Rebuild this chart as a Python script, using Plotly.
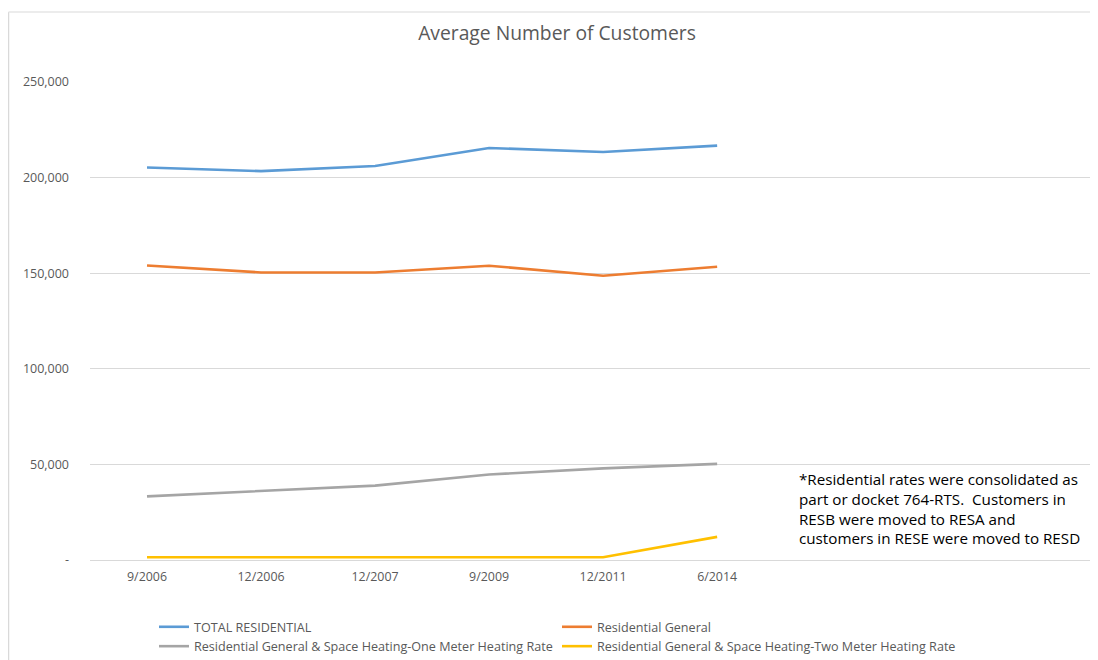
import plotly.graph_objects as go

categories = ["9/2006", "12/2006", "12/2007", "9/2009", "12/2011", "6/2014"]
total_residential = [205300, 203400, 206100, 215500, 213400, 216700]
residential_general = [154000, 150400, 150400, 153900, 148700, 153400]
one_meter = [33300, 36200, 38900, 44700, 47900, 50300]
two_meter = [1400, 1400, 1400, 1400, 1400, 12100]

y_tickvals = [0, 50000, 100000, 150000, 200000, 250000]
y_ticktext = ["-", "50,000", "100,000", "150,000", "200,000", "250,000"]

series = [
    ("TOTAL RESIDENTIAL", total_residential, "#5B9BD5"),
    ("Residential General", residential_general, "#ED7D31"),
    ("Residential General & Space Heating-One Meter Heating Rate", one_meter, "#A5A5A5"),
    ("Residential General & Space Heating-Two Meter Heating Rate", two_meter, "#FFC000"),
]

fig = go.Figure()
for name, vals, color in series:
    fig.add_trace(go.Scatter(
        x=categories, y=vals, name=name, mode="lines",
        line=dict(color=color, width=2.6),
    ))

font_family = "Open Sans"

fig.update_layout(
    width=1098, height=676,
    margin=dict(l=82, r=16, t=74, b=124),
    paper_bgcolor="white", plot_bgcolor="white",
    font=dict(family=font_family, color="#595959", size=12.5),
    title=dict(text="Average Number of Customers", x=0.5, xanchor="center",
               y=1 - 25 / 676, yanchor="middle",
               font=dict(size=19.3, color="#595959", family=font_family)),
    showlegend=True,
    legend=dict(orientation="h", x=0.064, xanchor="left", y=-0.109, yanchor="top",
                entrywidth=358, entrywidthmode="pixels",
                font=dict(size=12.6, color="#595959"), tracegroupgap=0,
                itemwidth=30),
    xaxis=dict(type="category", range=[-0.5, 8.27], showgrid=False,
               showline=True, linecolor="#D9D9D9", linewidth=1,
               ticks="", ticklabelstandoff=5,
               tickfont=dict(size=12.4, color="#595959"), fixedrange=True),
    yaxis=dict(range=[0, 250000], tickvals=y_tickvals, ticktext=y_ticktext,
               showgrid=True, gridcolor="#D9D9D9", gridwidth=1, zeroline=False,
               showline=False, ticks="", ticklabelstandoff=20,
               tickfont=dict(size=12.5, color="#595959"), fixedrange=True),
)

fig.add_annotation(
    text="*Residential rates were consolidated as<br>part or docket 764-RTS.  Customers in<br>"
         "RESB were moved to RESA and<br>customers in RESE were moved to RESD",
    xref="paper", yref="paper", x=0.707, y=0.194, xanchor="left", yanchor="top",
    align="left", showarrow=False,
    font=dict(size=15.2, color="#000000", family=font_family),
)

# outer chart border (left and top)
fig.add_shape(type="line", xref="paper", yref="paper", x0=-0.0815, x1=-0.0815,
              y0=1.1464, y1=-0.25, line=dict(color="#D9D9D9", width=1.5))
fig.add_shape(type="line", xref="paper", yref="paper", x0=-0.0815, x1=1.05,
              y0=1.1464, y1=1.1464, line=dict(color="#E6E6E6", width=1.5))

fig.write_html("out.html")
